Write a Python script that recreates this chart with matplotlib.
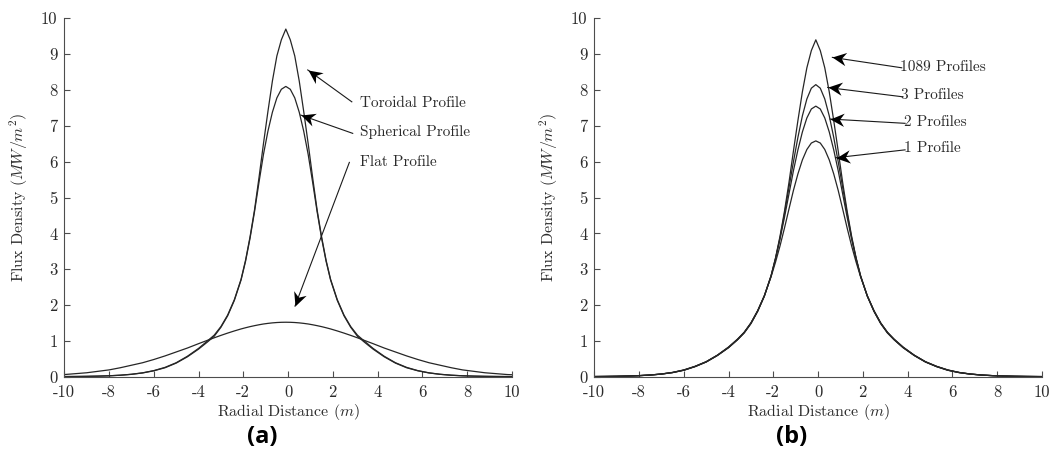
import numpy as np
import matplotlib
matplotlib.use("Agg")
import matplotlib.pyplot as plt
from matplotlib.path import Path

plt.rcParams["mathtext.fontset"] = "cm"
plt.rcParams["font.family"] = ["cmr10", "DejaVu Serif"]
plt.rcParams["axes.unicode_minus"] = False

# Radial positions (m) at which the profiles are sampled
radial = [-10.0, -9.5, -9.0, -8.5, -8.0, -7.5, -7.0, -6.5, -6.0, -5.5, -5.0, -4.5,
          -4.0, -3.6, -3.3, -3.0, -2.7, -2.4, -2.1, -1.9, -1.7, -1.5, -1.3, -1.1,
          -0.9, -0.7, -0.5, -0.3, -0.1,
          0.1, 0.3, 0.5, 0.7, 0.9, 1.1, 1.3, 1.5, 1.7, 1.9, 2.2, 2.5, 2.8, 3.1,
          3.4, 3.8, 4.3, 4.8, 5.3, 5.8, 6.3, 6.8, 7.3, 7.8, 8.3, 8.8, 9.3, 9.8, 10.0]

# Panel (a): flux density (MW/m^2) for each source profile
toroidal = [0.004, 0.006, 0.010, 0.016, 0.026, 0.042, 0.068, 0.108, 0.17, 0.26,
            0.39, 0.57, 0.79, 1.00, 1.16, 1.40, 1.72, 2.15, 2.72, 3.25, 3.90, 4.65,
            5.55, 6.50, 7.40, 8.25, 8.95, 9.40, 9.70,
            9.40, 8.95, 8.25, 7.40, 6.50, 5.55, 4.65, 3.90, 3.25, 2.72, 2.15, 1.72,
            1.40, 1.16, 1.00, 0.79, 0.57, 0.39, 0.26, 0.17, 0.108, 0.068, 0.042,
            0.026, 0.016, 0.010, 0.006, 0.004, 0.003]
spherical = [0.004, 0.006, 0.010, 0.016, 0.025, 0.041, 0.066, 0.105, 0.165, 0.25,
             0.38, 0.555, 0.77, 0.97, 1.13, 1.38, 1.70, 2.13, 2.70, 3.22, 3.86,
             4.60, 5.42, 6.20, 6.85, 7.38, 7.78, 8.02, 8.10,
             8.02, 7.78, 7.38, 6.85, 6.20, 5.42, 4.60, 3.86, 3.22, 2.70, 2.13, 1.70,
             1.38, 1.13, 0.97, 0.77, 0.555, 0.38, 0.25, 0.165, 0.105, 0.066, 0.041,
             0.025, 0.016, 0.010, 0.006, 0.004, 0.003]
flat = [0.06, 0.085, 0.11, 0.15, 0.19, 0.25, 0.32, 0.39, 0.48, 0.58, 0.69, 0.80,
        0.922, 1.016, 1.086, 1.153, 1.217, 1.277, 1.333, 1.366, 1.397, 1.424, 1.449,
        1.471, 1.488, 1.502, 1.512, 1.518, 1.520,
        1.518, 1.512, 1.502, 1.488, 1.471, 1.449, 1.424, 1.397, 1.366, 1.333, 1.277,
        1.217, 1.153, 1.086, 1.016, 0.922, 0.80, 0.69, 0.58, 0.48, 0.39, 0.32, 0.25,
        0.19, 0.15, 0.11, 0.085, 0.06, 0.055]

# Panel (b): flux density for increasing numbers of superposed profiles
prof_1089 = [0.004, 0.007, 0.011, 0.018, 0.029, 0.046, 0.073, 0.115, 0.18, 0.28,
             0.41, 0.59, 0.81, 1.03, 1.22, 1.48, 1.82, 2.25, 2.82, 3.32, 3.92, 4.62,
             5.42, 6.30, 7.15, 7.95, 8.62, 9.10, 9.40,
             9.10, 8.62, 7.95, 7.15, 6.30, 5.42, 4.62, 3.92, 3.32, 2.82, 2.25, 1.82,
             1.48, 1.22, 1.03, 0.81, 0.59, 0.41, 0.28, 0.18, 0.115, 0.073, 0.046,
             0.029, 0.018, 0.011, 0.007, 0.004, 0.003]
prof_3 = [0.004, 0.007, 0.011, 0.018, 0.029, 0.047, 0.074, 0.116, 0.182, 0.283,
          0.413, 0.595, 0.815, 1.035, 1.23, 1.49, 1.83, 2.25, 2.81, 3.30, 3.88, 4.55,
          5.28, 6.00, 6.68, 7.28, 7.75, 8.05, 8.15,
          8.05, 7.75, 7.28, 6.68, 6.00, 5.28, 4.55, 3.88, 3.30, 2.81, 2.25, 1.83,
          1.49, 1.23, 1.035, 0.815, 0.595, 0.413, 0.283, 0.182, 0.116, 0.074, 0.047,
          0.029, 0.018, 0.011, 0.007, 0.004, 0.003]
prof_2 = [0.004, 0.007, 0.011, 0.019, 0.030, 0.047, 0.075, 0.118, 0.184, 0.286,
          0.416, 0.60, 0.82, 1.04, 1.24, 1.50, 1.84, 2.26, 2.81, 3.29, 3.84, 4.45,
          5.10, 5.75, 6.33, 6.83, 7.22, 7.47, 7.55,
          7.47, 7.22, 6.83, 6.33, 5.75, 5.10, 4.45, 3.84, 3.29, 2.81, 2.26, 1.84,
          1.50, 1.24, 1.04, 0.82, 0.60, 0.416, 0.286, 0.184, 0.118, 0.075, 0.047,
          0.030, 0.019, 0.011, 0.007, 0.004, 0.003]
prof_1 = [0.005, 0.007, 0.012, 0.019, 0.030, 0.048, 0.076, 0.12, 0.19, 0.29, 0.42,
          0.60, 0.83, 1.05, 1.24, 1.50, 1.84, 2.26, 2.79, 3.20, 3.65, 4.15, 4.68,
          5.20, 5.66, 6.05, 6.34, 6.52, 6.58,
          6.52, 6.34, 6.05, 5.66, 5.20, 4.68, 4.15, 3.65, 3.20, 2.79, 2.26, 1.84,
          1.50, 1.24, 1.05, 0.83, 0.60, 0.42, 0.29, 0.19, 0.12, 0.076, 0.048, 0.030,
          0.019, 0.012, 0.007, 0.005, 0.004]

x_ticks = [-10, -8, -6, -4, -2, 0, 2, 4, 6, 8, 10]
y_ticks = [0, 1, 2, 3, 4, 5, 6, 7, 8, 9, 10]

labels_a = ["Toroidal Profile", "Spherical Profile", "Flat Profile"]
labels_b = ["1089 Profiles", "3 Profiles", "2 Profiles", "1 Profile"]

line_col = "#262626"
axis_col = "#4d4d4d"
text_col = "#2b2b2b"

fig = plt.figure(figsize=(10.6, 4.57), dpi=100)
ax_a = fig.add_axes([0.0607, 0.1757, 0.4221, 0.7842])
ax_b = fig.add_axes([0.5607, 0.1757, 0.4221, 0.7842])


def style_axes(ax):
    ax.set_xlim(-10, 10)
    ax.set_ylim(0, 10)
    ax.set_xticks(x_ticks)
    ax.set_xticklabels([str(t) for t in x_ticks])
    ax.set_yticks(y_ticks)
    ax.set_yticklabels([str(t) for t in y_ticks])
    for side in ("top", "right"):
        ax.spines[side].set_visible(False)
    for side in ("left", "bottom"):
        ax.spines[side].set_color(axis_col)
        ax.spines[side].set_linewidth(0.8)
    ax.tick_params(direction="in", length=4, width=0.8, color=axis_col,
                   labelsize=12, labelcolor=text_col)
    ax.tick_params(axis="x", pad=6)
    ax.tick_params(axis="y", pad=5)
    ax.set_xlabel("Radial Distance ($m$)", fontsize=11.5, color=text_col, labelpad=1)
    ax.set_ylabel("Flux Density ($MW/m^2$)", fontsize=11.5, color=text_col, labelpad=8)


# Notched arrowhead outline, tip at the origin pointing along +x
HEAD = np.array([[0.0, 0.0], [-1.0, 0.48], [-0.68, 0.0], [-1.0, -0.48], [0.0, 0.0]])
HEAD_CODES = [Path.MOVETO, Path.LINETO, Path.LINETO, Path.LINETO, Path.CLOSEPOLY]


def arrow(ax, text, tip, tail, text_x, text_y, head_pts=10.0):
    ax.plot([tail[0], tip[0]], [tail[1], tip[1]], color="#1a1a1a", lw=0.8)
    p_tail = ax.transData.transform(tail)
    p_tip = ax.transData.transform(tip)
    ang = np.arctan2(p_tip[1] - p_tail[1], p_tip[0] - p_tail[0])
    rot = np.array([[np.cos(ang), -np.sin(ang)], [np.sin(ang), np.cos(ang)]])
    verts = HEAD @ rot.T
    scale = np.max(np.abs(verts))
    ax.plot(tip[0], tip[1], marker=Path(verts, HEAD_CODES),
            markersize=2 * head_pts * scale, color="black", mew=0, ls="none")
    ax.text(text_x, text_y, text, fontsize=11, color=text_col,
            ha="left", va="center")


# Panel (a)
for series in (toroidal, spherical, flat):
    ax_a.plot(radial, series, color=line_col, lw=0.9)
style_axes(ax_a)
arrow(ax_a, labels_a[0], (0.88, 8.56), (2.85, 7.67), 3.22, 7.62)
arrow(ax_a, labels_a[1], (0.57, 7.30), (2.89, 6.79), 3.22, 6.82)
arrow(ax_a, labels_a[2], (0.31, 1.97), (2.74, 5.98), 3.22, 5.98)

# Panel (b)
for series in (prof_1089, prof_3, prof_2, prof_1):
    ax_b.plot(radial, series, color=line_col, lw=0.9)
style_axes(ax_b)
arrow(ax_b, labels_b[0], (0.64, 8.91), (3.74, 8.62), 3.67, 8.65)
arrow(ax_b, labels_b[1], (0.43, 8.07), (3.79, 7.81), 3.72, 7.86)
arrow(ax_b, labels_b[2], (0.54, 7.19), (3.89, 7.07), 3.82, 7.10)
arrow(ax_b, labels_b[3], (0.79, 6.11), (3.89, 6.33), 3.86, 6.37)

panel_font = ["Open Sans", "DejaVu Sans"]
fig.text(0.2472, 0.043, "(a)", fontsize=17, fontweight="bold",
         family=panel_font, ha="center", va="center", color="black")
fig.text(0.7472, 0.043, "(b)", fontsize=17, fontweight="bold",
         family=panel_font, ha="center", va="center", color="black")

fig.savefig("out.png", dpi=100)
